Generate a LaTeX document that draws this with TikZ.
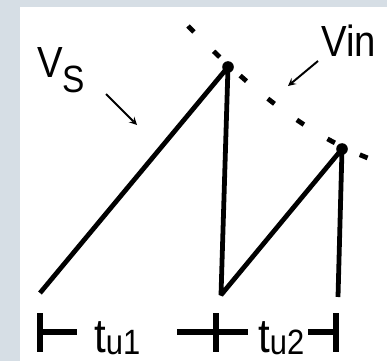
\documentclass[tikz,border=0pt]{standalone}
\usepackage{fontspec}
\newfontfamily\lblfont[FakeStretch=0.88]{Liberation Sans}
\definecolor{bgc}{RGB}{214,222,229}

\begin{document}
\begin{tikzpicture}[
  x=0.025cm, y=-0.025cm,
  every node/.style={inner sep=0pt},
  wave/.style={draw=black, line width=3.4pt, line join=bevel},
  pk/.style={circle, fill=black, minimum size=2.9mm},
  vin/.style={draw=black, line width=3.4pt, dash pattern=on 6pt off 19.6pt},
  ptr/.style={->, >=stealth, draw=black, line width=1.4pt},
  tick/.style={draw=black, line width=3.8pt},
  lbl/.style={font=\lblfont\fontsize{28}{30}\selectfont, anchor=base west},
]
  \useasboundingbox (0,0) rectangle (387,361);
  \fill[bgc] (0,0) rectangle (387,361);
  \fill[white] (20,7) rectangle (387,361);
  \coordinate (s0) at (40,293);
  \coordinate (b1) at (221,295);
  \coordinate (b2) at (338,297);
  \node[pk] (p1) at (228,67) {};
  \node[pk] (p2) at (342,149) {};
  \draw[wave] (s0) -- (p1.center) -- (b1) -- (p2.center) -- (b2);
  \coordinate (v0) at (188,26);
  \coordinate (v1) at (395,167);
  \draw[vin] (v0) .. controls (250,89) and (318,146) .. (v1);
  \node[lbl] (vs) at (37,77) {\fontsize{31}{32}\selectfont V\raisebox{-11pt}{\fontsize{27}{28}\selectfont S}};
  \coordinate (vsa) at (106,94);
  \coordinate (vsb) at (137,125);
  \draw[ptr] (vsa) -- (vsb);
  \node[lbl] (vinl) at (321,57) {\fontsize{31}{32}\selectfont Vin};
  \coordinate (vina) at (318,61);
  \coordinate (vinb) at (288,86);
  \draw[ptr] (vina) -- (vinb);
  \coordinate (t0) at (40,332);
  \coordinate (t1) at (216,332);
  \coordinate (t2) at (336,332);
  \draw[tick] (t0) ++(0,-19) -- ++(0,39);
  \draw[tick] (t0) -- ++(37,0);
  \draw[tick] (t1) ++(0,-19) -- ++(0,39);
  \draw[tick] (t1) ++(-39,0) -- ++(71,0);
  \draw[tick] (t2) ++(0,-19) -- ++(0,39);
  \draw[tick] (t2) -- ++(-28,0);
  \node[lbl] (tu1) at (94,352) {\fontsize{34}{35}\selectfont t\raisebox{-2pt}{\fontsize{25}{26}\selectfont u1}};
  \node[lbl] (tu2) at (258,352) {\fontsize{34}{35}\selectfont t\raisebox{-2pt}{\fontsize{25}{26}\selectfont u2}};
\end{tikzpicture}
\end{document}
